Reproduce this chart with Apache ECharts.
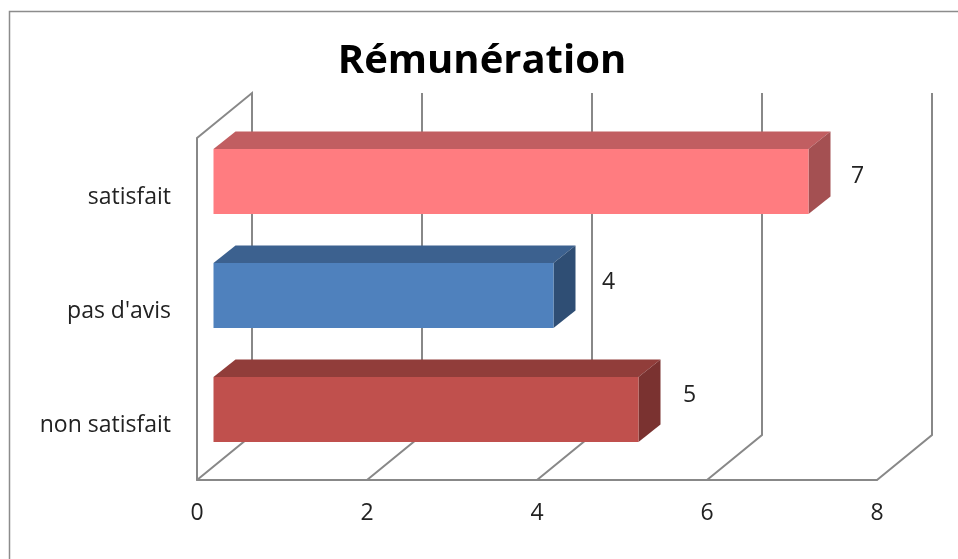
<!DOCTYPE html>
<html>
<head>
<meta charset="utf-8">
<style>html,body{margin:0;padding:0;background:#fff}#c{width:958px;height:559px}</style>
<script src="https://cdn.jsdelivr.net/npm/echarts@6/dist/echarts.min.js"></script>
</head>
<body>
<div id="c"></div>
<script>
const categories = ['non satisfait', "pas d'avis", 'satisfait'];
const values = [5, 4, 7];
const valueTicks = [0, 2, 4, 6, 8];
const titleText = 'Rémunération';

const faceColors = ['#C0504D', '#4F81BD', '#FF7C80'];
const topColors = ['#913D3A', '#3C618F', '#C15E61'];
const sideColors = ['#7A3230', '#2F4E74', '#A45052'];
const labelNudges = [[51, -28], [55, -27], [49, -19]];
const DEPTH_X = 55, DEPTH_Y = 45, BAR_X = 16.5, BAR_Y = 13.5, CAP_X = 22, CAP_Y = 17.5, BAR_H = 65;
const FONT = '"Open Sans", sans-serif';
const LINE = '#888888';

const chart = echarts.init(document.getElementById('c'), null, {renderer: 'canvas'});

function renderWall(params, api) {
  const s = params.coordSys;
  const p = api.coord([api.value(0), 0]);
  const top = s.y, bottom = s.y + s.height;
  const pts = [[p[0], bottom], [p[0] + DEPTH_X, bottom - DEPTH_Y], [p[0] + DEPTH_X, top - DEPTH_Y]];
  if (params.dataIndex === 0) pts.push([p[0], top]);
  return {type: 'polyline', shape: {points: pts},
    style: {stroke: LINE, lineWidth: 2, fill: null}};
}

function renderBar(params, api) {
  const i = params.dataIndex;
  const start = api.coord([0, api.value(1)]);
  const end = api.coord([api.value(0), api.value(1)]);
  const x0 = start[0] + BAR_X, x1 = end[0] + BAR_X;
  const yt = start[1] - BAR_Y - BAR_H / 2, yb = yt + BAR_H;
  const n = labelNudges[i];
  return {type: 'group', children: [
    {type: 'polygon', shape: {points: [[x0, yt], [x0 + CAP_X, yt - CAP_Y], [x1 + CAP_X, yt - CAP_Y], [x1, yt]]},
      style: {fill: topColors[i]}},
    {type: 'polygon', shape: {points: [[x1, yt], [x1 + CAP_X, yt - CAP_Y], [x1 + CAP_X, yb - CAP_Y], [x1, yb]]},
      style: {fill: sideColors[i]}},
    {type: 'rect', shape: {x: x0, y: yt, width: x1 - x0, height: BAR_H},
      style: {fill: faceColors[i]}},
    {type: 'text', style: {text: String(api.value(0)), x: x1 + n[0], y: start[1] + n[1],
      align: 'center', verticalAlign: 'middle', fill: '#222', font: '23px ' + FONT}}
  ]};
}

chart.setOption({
  animation: false,
  backgroundColor: '#fff',
  title: {text: titleText, left: 477, top: 37, textAlign: 'center',
    textStyle: {fontFamily: FONT, fontSize: 40, fontWeight: 'bold', color: '#000'}},
  graphic: [{type: 'polyline', silent: true, z: -1,
    shape: {points: [[9.5, 559], [9.5, 11.5], [958, 11.5]]},
    style: {stroke: '#8c8c8c', lineWidth: 1.5, fill: null}}],
  grid: {left: 197, right: 81, top: 138, bottom: 79, containLabel: false},
  xAxis: {type: 'value', min: 0, max: 8, interval: 2,
    axisLine: {show: true, lineStyle: {color: LINE, width: 2}},
    axisTick: {show: false}, splitLine: {show: false},
    axisLabel: {margin: 22, color: '#222', fontFamily: FONT, fontSize: 23,
      formatter: v => valueTicks.includes(v) ? String(v) : ''}},
  yAxis: {type: 'category', data: categories,
    axisLine: {show: true, onZero: false, lineStyle: {color: LINE, width: 2}},
    axisTick: {show: false}, splitLine: {show: false},
    axisLabel: {margin: 26, color: '#222', fontFamily: FONT, fontSize: 23, verticalAlign: 'top', lineHeight: 4}},
  series: [
    {type: 'custom', renderItem: renderWall, clip: false, silent: true, z: 1,
      encode: {x: 0}, data: valueTicks.map(v => [v, 0])},
    {type: 'custom', renderItem: renderBar, clip: false, silent: true, z: 5,
      encode: {x: 0, y: 1}, data: values.map((v, i) => [v, i])}
  ]
});
</script>
</body>
</html>
